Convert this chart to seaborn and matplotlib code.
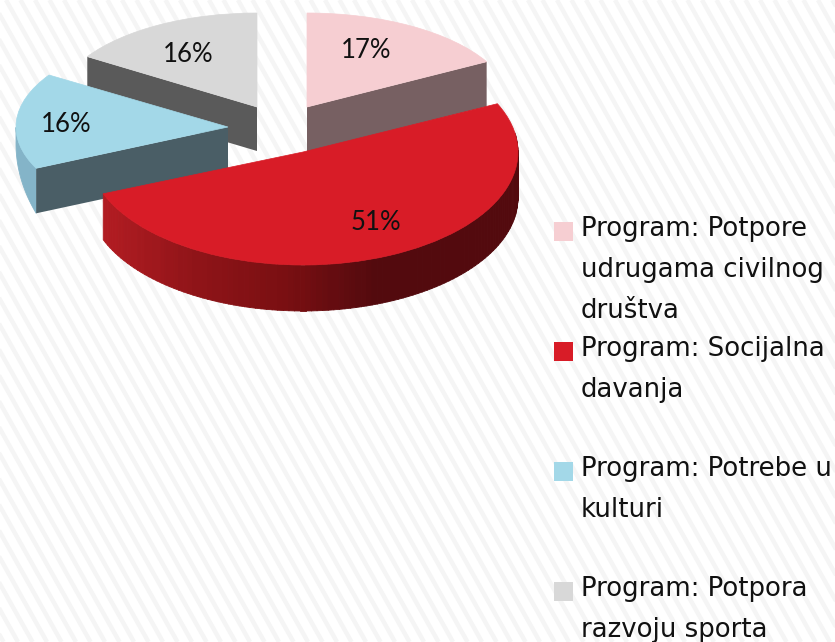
import numpy as np
import matplotlib
matplotlib.use('Agg')
import matplotlib.pyplot as plt
from matplotlib.patches import Rectangle
import seaborn as sns

W, H = 835, 642

# data
programs = ['Program: Potpore\nudrugama civilnog\ndruštva',
            'Program: Socijalna\ndavanja',
            'Program: Potrebe u\nkulturi',
            'Program: Potpora\nrazvoju sporta']
shares = [17, 51, 16, 16]

# styles
top_colors = ['#f6ced2', '#d81c27', '#a3d8e8', '#d8d8d8']
wall_colors = ['#776062', None, '#4a5e66', '#5a5a5a']
red_rim = sns.blend_palette(['#b11c22', '#8f1418', '#7a0f12', '#530a0e'], 40)
blue_rim = '#84b4c8'

# apex x, apex y, rx, ry, depth, rotation, label x, label y (pixels)
layout = {
    0: (307, 107, 205, 94, 45, 0, 366, 51),
    1: (303, 152, 215, 113, 46, -3.5, 376, 223),
    2: (228, 127, 212, 97, 45, 0, 66, 124),
    3: (257, 107, 201, 94, 44, 0, 188, 54),
}
draw_order = [3, 0, 2, 1]


def wedge_axes(fig, cx, cy, rx, ry, z):
    return fig.add_axes([(cx - rx) / W, 1 - (cy + ry) / H, 2 * rx / W, 2 * ry / H], zorder=z)


def sweep(ax, a, b, d0, d1, color, n=2):
    t = np.radians(np.linspace(a, b, n))
    x = np.cos(t)
    y = np.sin(t)
    low = y - np.linspace(d0, d1, n)
    ax.fill(np.r_[x, x[::-1]], np.r_[y, low[::-1]], color=color, lw=0.6, clip_on=False)


sns.set_theme(style='white')
fig = plt.figure(figsize=(W / 100, H / 100), dpi=100, facecolor='white')

# background with faint stripes
bg = fig.add_axes([0, 0, 1, 1], zorder=0)
bg.set_xlim(0, W)
bg.set_ylim(H, 0)
bg.axis('off')
for x0 in np.arange(-400, W + 20, 14.5):
    bg.plot([x0, x0 + 360], [0, H], color='#f5f5f5', lw=3.2, solid_capstyle='butt')

# overlay for legend and labels
top = fig.add_axes([0, 0, 1, 1], zorder=20)
top.set_xlim(0, W)
top.set_ylim(H, 0)
top.axis('off')

starts = 90 - np.cumsum([0] + shares[:-1]) * 3.6

for z, i in enumerate(draw_order):
    cx, cy, rx, ry, depth, rot, lx, ly = layout[i]
    ax = wedge_axes(fig, cx, cy, rx, ry, z + 1)
    theta1 = starts[i] + rot
    theta2 = theta1 - shares[i] * 3.6
    d = depth / ry

    if i == 1:
        # front rim of the big slice, shaded left to right
        for a in np.arange(theta2, theta1 - 16, 1.5):
            px = cx + rx * np.cos(np.radians(a))
            k = int(np.clip((px - 103) / (368 - 103), 0, 1) * (len(red_rim) - 1))
            sweep(ax, a, a + 1.6, d, d, red_rim[k])
    else:
        if i == 2:
            # outer rim of the blue slice tapers towards the far side
            sweep(ax, theta1, theta1 - 25, d, d * 0.38, blue_rim, n=30)
        # the cut face that shows towards the viewer
        edge = theta2 if i == 0 else theta1
        t = np.radians(edge)
        ax.fill([0, np.cos(t), np.cos(t), 0], [0, np.sin(t), np.sin(t) - d, -d],
                color=wall_colors[i], lw=0, clip_on=False)

    ax.pie([shares[i] / sum(shares)], colors=[top_colors[i]], startangle=theta1, counterclock=False,
           normalize=False, radius=1, wedgeprops={'lw': 0.5, 'edgecolor': top_colors[i]})
    ax.set_aspect('auto')
    ax.set_xlim(-1, 1)
    ax.set_ylim(-1, 1)
    ax.axis('off')

    top.text(lx, ly, f'{shares[i]}%', family='Lato', fontsize=18.5, color='#111111',
             ha='center', va='center')

# legend
for i, label in enumerate(programs):
    y0 = 222 + 120 * i
    top.add_patch(Rectangle((554, y0), 19, 19, color=top_colors[i], lw=0))
    for j, line in enumerate(label.split('\n')):
        top.text(581, y0 + 14.5 + 40.5 * j, line, family='DejaVu Sans', fontsize=18.7, color='#111111',
                 ha='left', va='baseline')

fig.savefig('out.png', dpi=100)
